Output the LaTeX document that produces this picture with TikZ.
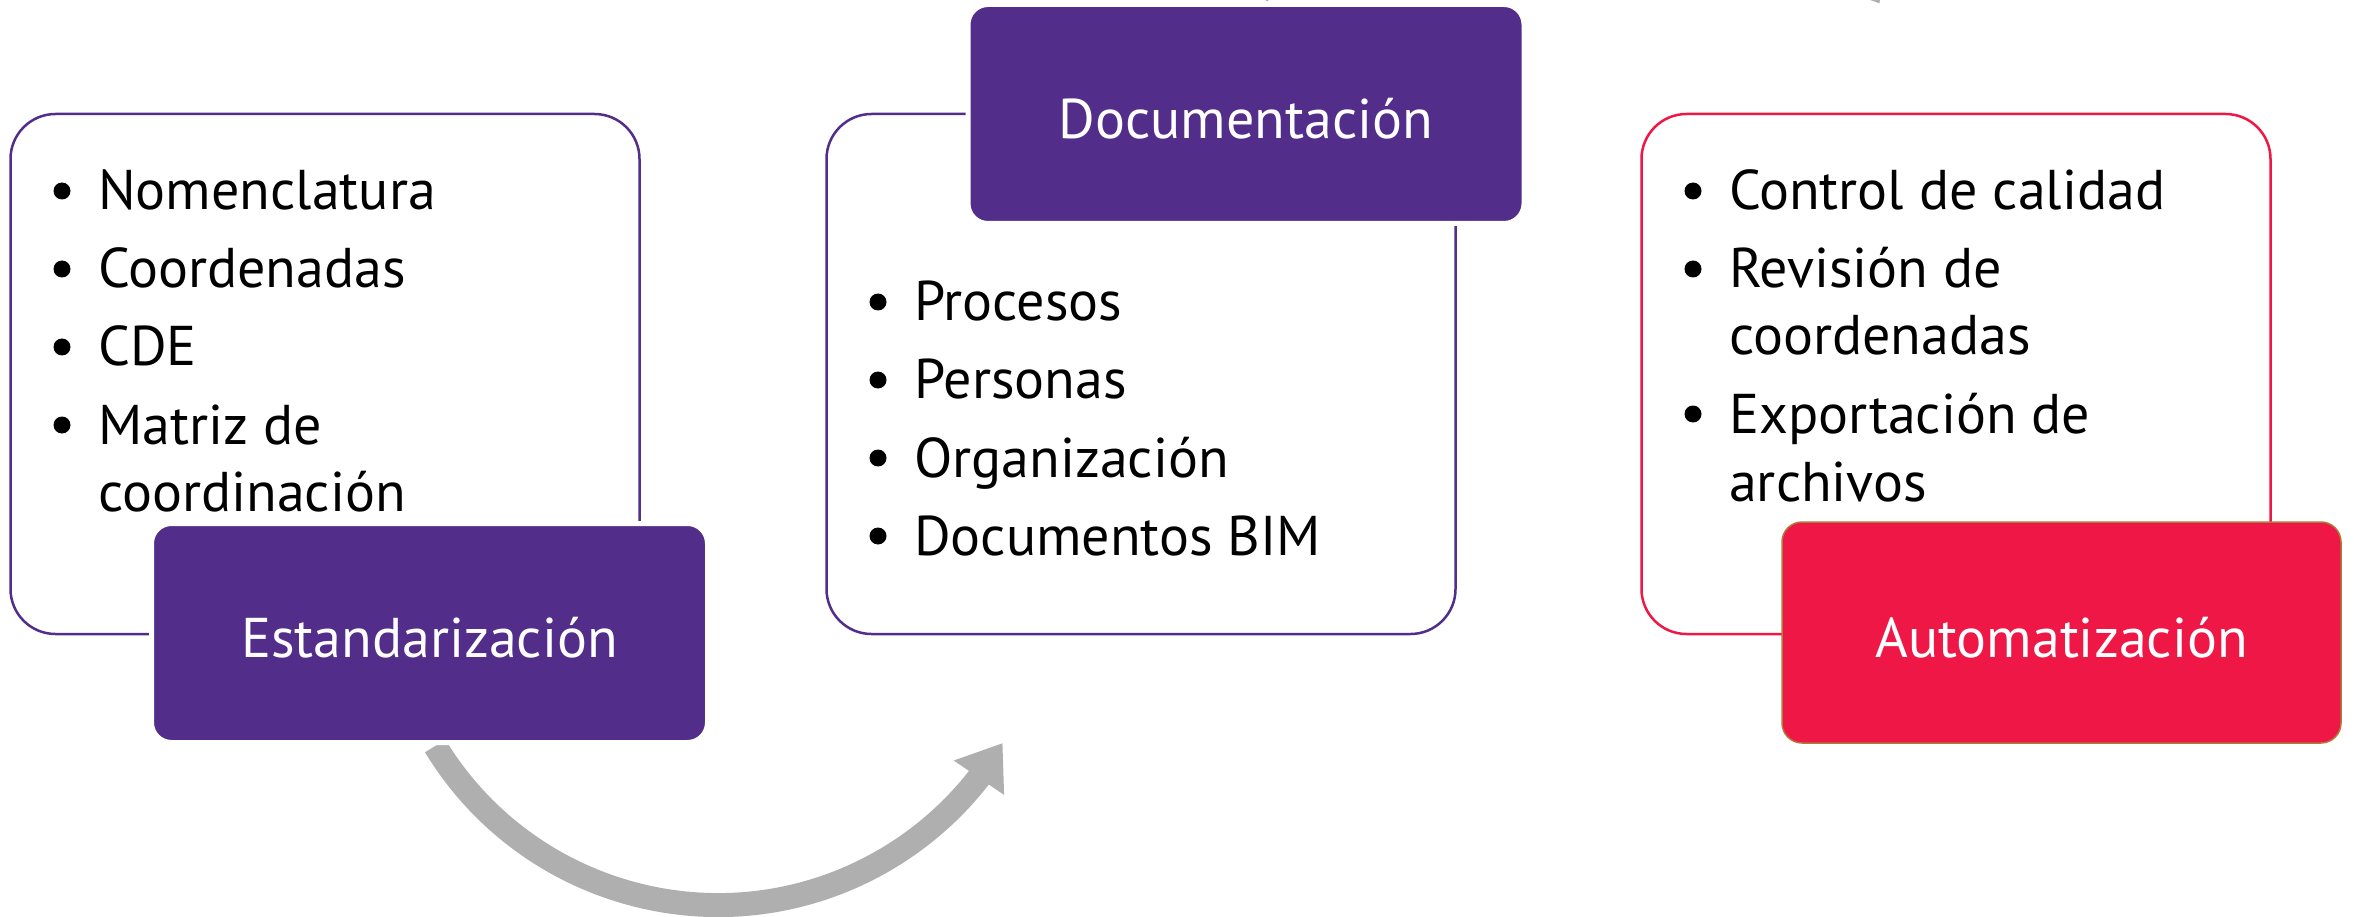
\documentclass[tikz,border=0pt]{standalone}
\usepackage{fontspec}
\setmainfont{PT Sans}
\usetikzlibrary{arrows.meta,bending}
\definecolor{dpurple}{HTML}{522D8A}
\definecolor{dred}{HTML}{EE1746}
\definecolor{dbrown}{HTML}{B07A3A}
\definecolor{arrowgray}{HTML}{AFAFAF}
\begin{document}
\begin{tikzpicture}[x=1pt,y=-1pt,
  outline/.style={draw=#1, line width=2.5pt, rounded corners=45pt, fill=white,
    minimum width=629pt, minimum height=520pt, inner sep=0pt},
  labelbox/.style={fill=#1, rounded corners=20pt, minimum width=556pt, minimum height=219pt,
    inner sep=0pt, text=white, font=\fontsize{56}{60}\selectfont, text height=49pt, text depth=0pt},
  gapbox/.style={draw=white, line width=5pt},
  item/.style={anchor=base west, inner sep=0pt, font=\fontsize{56}{60}\selectfont},
  dot/.style={circle, fill=black, inner sep=0pt, minimum size=17pt},
  flow/.style={draw=arrowgray, line width=24pt, -{Triangle[length=42pt,width=58pt,flex]}}
]
\useasboundingbox (0,0) rectangle (2354,917);
\clip (0,0) rectangle (2354,917);
\fill[white] (0,0) rectangle (2354,917);

% curved arrows
\coordinate (s1) at (435.2,746);
\draw[flow] (s1) arc[start angle=148.7, end angle=30.7, radius=331];
\coordinate (s2) at (1257.5,-5);
\draw[flow] (s2) arc[start angle=212.3, end angle=329.3, radius=365];

% outline boxes
\node[outline=dpurple] (b1) at (325,374) {};
\node[outline=dpurple] (b2) at (1141,374) {};
\node[outline=dred] (b3) at (1956,374) {};

% labels
\node[labelbox=dpurple, gapbox] (l1) at (429.5,633) {Estandarización};
\node[labelbox=dpurple, gapbox] (l2) at (1246,114) {Documentación};
\node[labelbox=dred, draw=dbrown, line width=1.5pt, minimum width=559pt, minimum height=221pt] (l3) at (2061.5,632.5) {Automatización};

% box 1 items
\node[dot] (d11) at (62,191) {};
\node[item] (t11) at (98,210) {Nomenclatura};
\node[dot] (d12) at (62,269) {};
\node[item] (t12) at (98,288) {Coordenadas};
\node[dot] (d13) at (62,347) {};
\node[item] (t13) at (98,366) {CDE};
\node[dot] (d14) at (62,425) {};
\node[item] (t14) at (98,444) {Matriz de};
\node[item] (t15) at (98,511) {coordinación};

% box 2 items
\node[dot] (d21) at (878,302) {};
\node[item] (t21) at (914,321) {Procesos};
\node[dot] (d22) at (878,380) {};
\node[item] (t22) at (914,399) {Personas};
\node[dot] (d23) at (878,458) {};
\node[item] (t23) at (914,477) {Organización};
\node[dot] (d24) at (878,536) {};
\node[item] (t24) at (914,555) {Documentos BIM};

% box 3 items
\node[dot] (d31) at (1693,191) {};
\node[item] (t31) at (1729,210) {Control de calidad};
\node[dot] (d32) at (1693,269) {};
\node[item] (t32) at (1729,288) {Revisión de};
\node[item] (t33) at (1729,355) {coordenadas};
\node[dot] (d34) at (1693,414) {};
\node[item] (t34) at (1729,433) {Exportación de};
\node[item] (t35) at (1729,501) {archivos};
\end{tikzpicture}
\end{document}
